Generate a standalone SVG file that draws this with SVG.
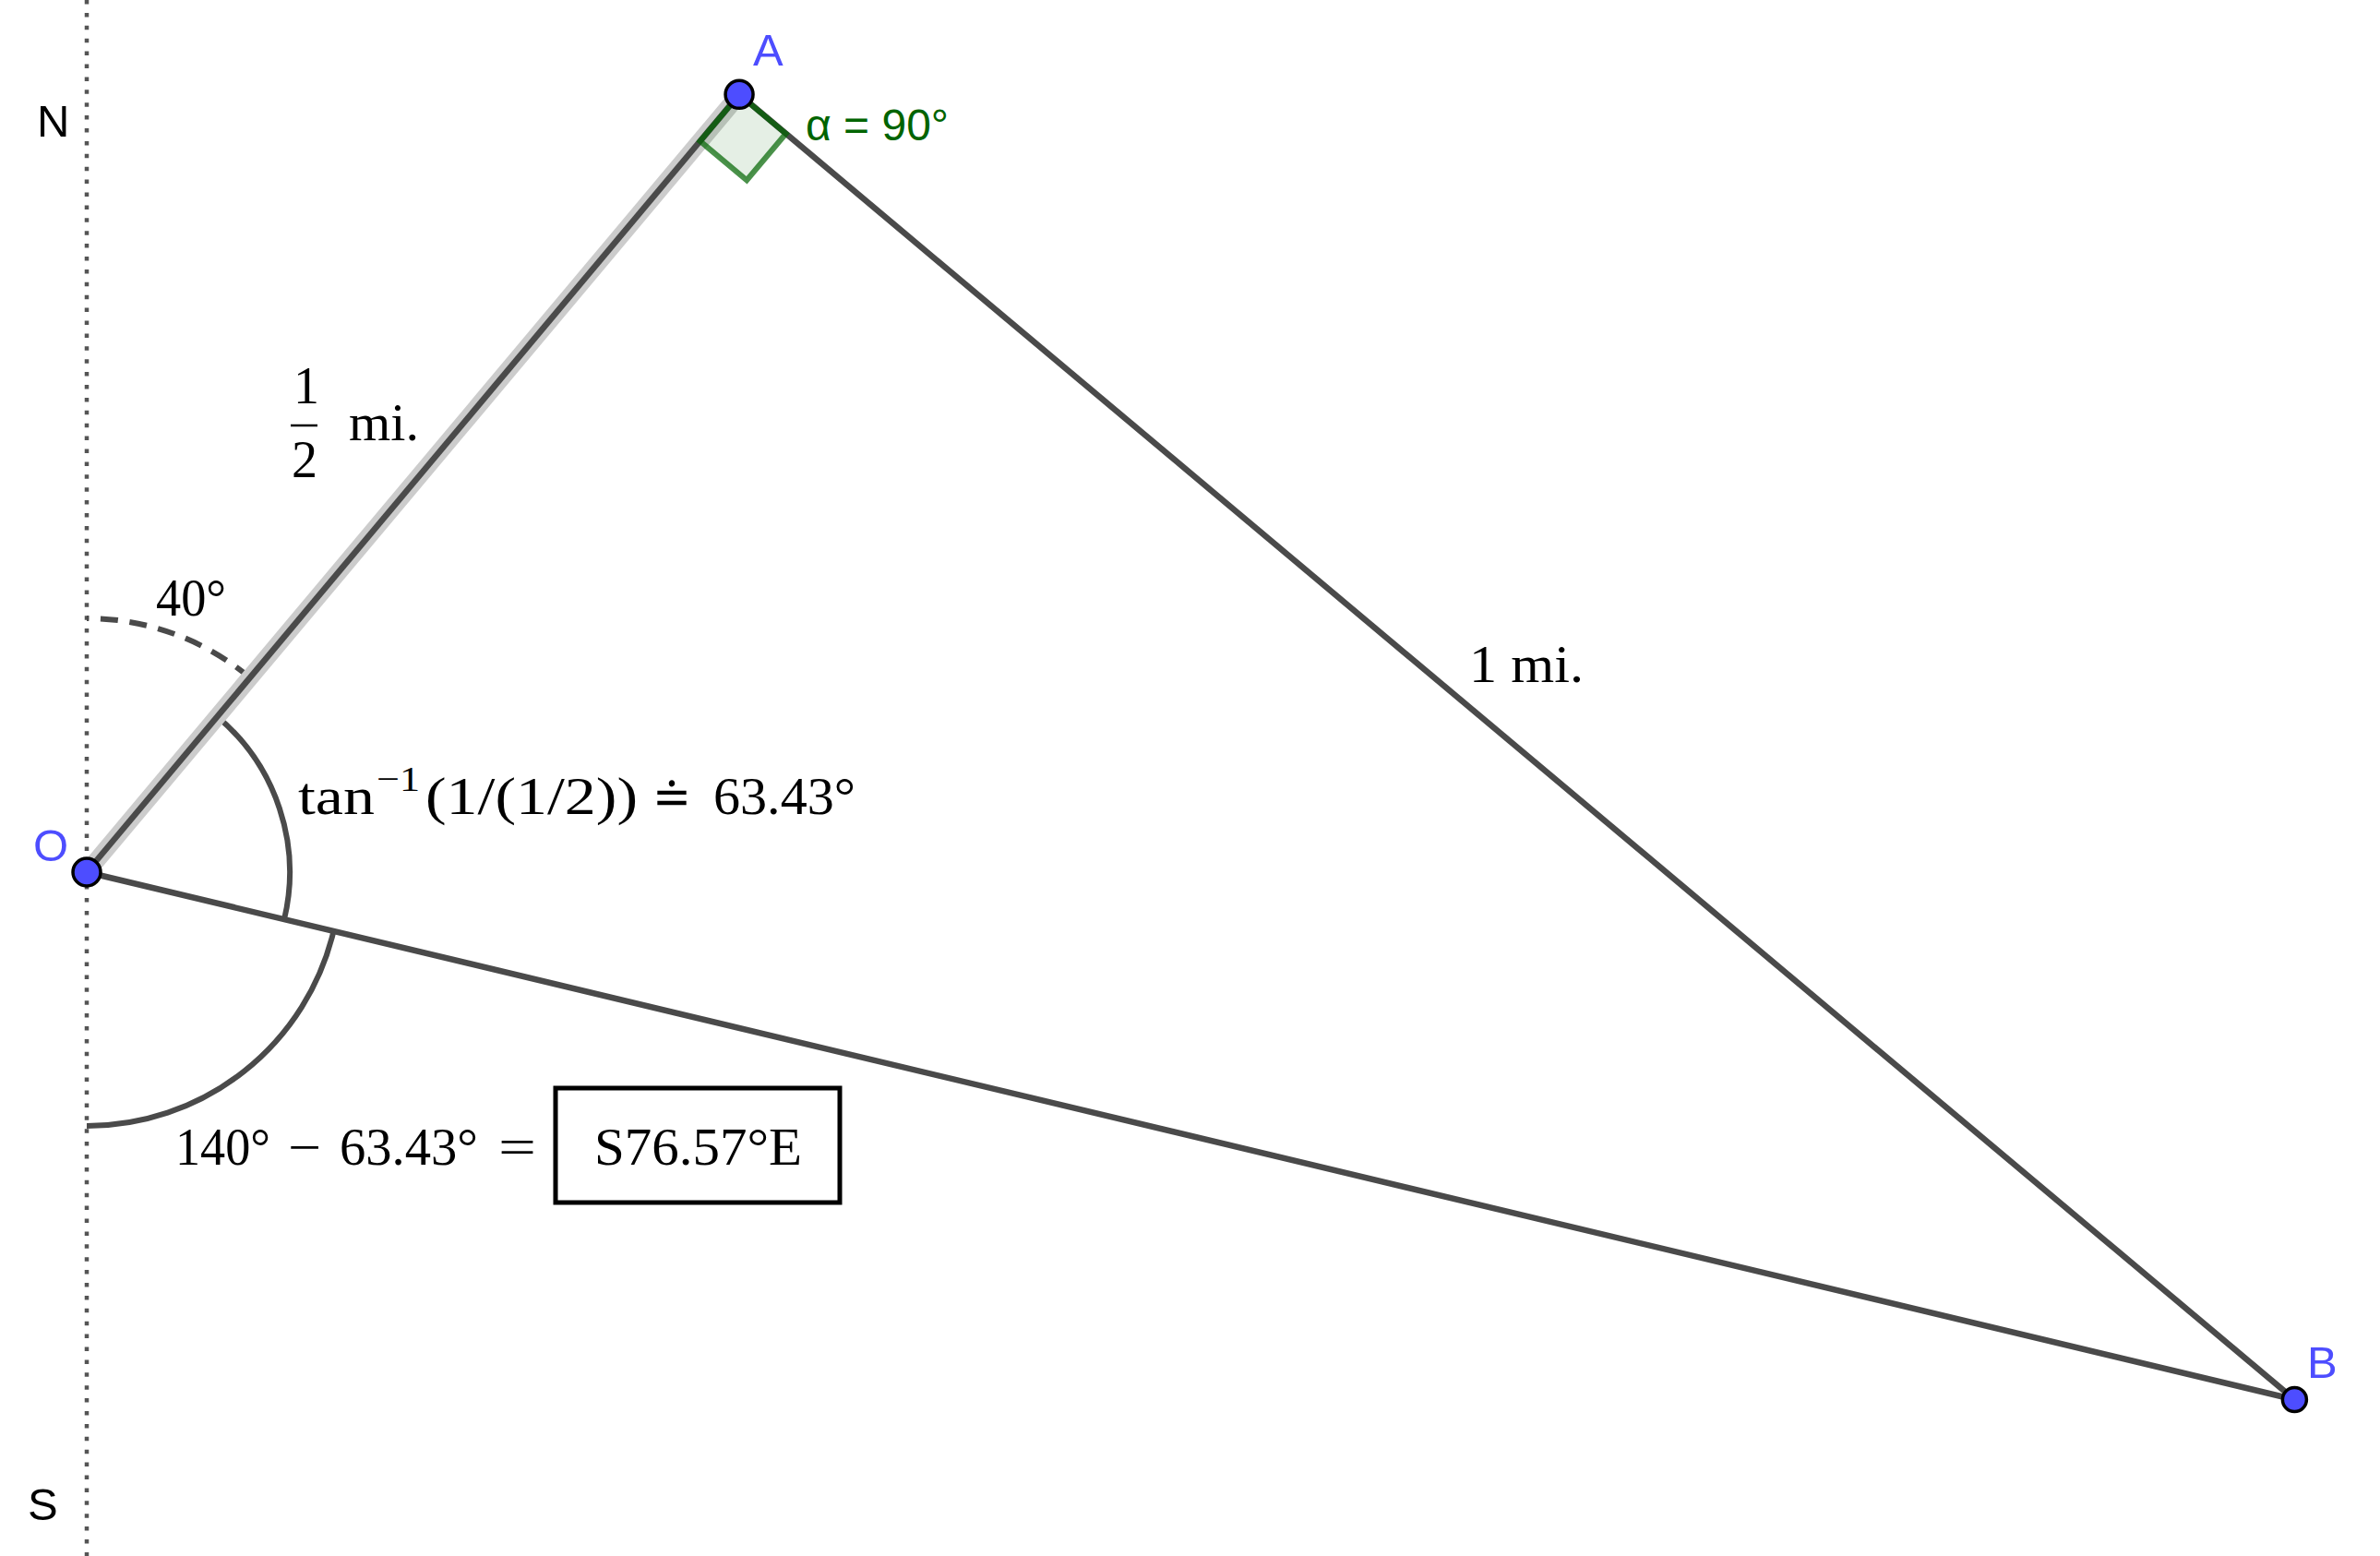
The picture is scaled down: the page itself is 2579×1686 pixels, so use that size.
<svg xmlns="http://www.w3.org/2000/svg" width="2579" height="1686" viewBox="0 0 2579 1686">
<style>
.seg{stroke:#4a4a4a;stroke-width:6.5;fill:none}
.arc{stroke:#4a4a4a;stroke-width:6;fill:none}
.pt{fill:#4d4dff;stroke:#000;stroke-width:3.5}
.lbl{font-family:"Liberation Sans",Arial,sans-serif;font-size:49px}
.blue{fill:#4d4dff}
.m{font-family:"Liberation Serif","DejaVu Serif",serif;fill:#000}
.big{font-size:56px}
</style>
<rect width="2579" height="1686" fill="#fff"/>
<g id="axis">
<line x1="94" y1="0" x2="94" y2="1686" stroke="#555" stroke-width="4.5" stroke-dasharray="4.5 9.4"/>
<text class="lbl" x="40" y="148">N</text>
<text class="lbl" x="30" y="1647">S</text>
</g>
<g id="angles">
<path class="arc" d="M235.4,776.5 A220,220 0 0 1 308,996.1"/>
<path class="arc" d="M361.5,1008.9 A275,275 0 0 1 94,1220"/>
<path class="arc" stroke-width="7.5" stroke-dasharray="19 12.6" d="M270.8,734.3 A275,275 0 0 0 94,670"/>
</g>
<g id="connectors">
<line x1="94" y1="945" x2="801.07" y2="102.36" stroke="#cccccc" stroke-width="19"/>
<line class="seg" x1="94" y1="945" x2="801.07" y2="102.36"/>
<line class="seg" x1="801.07" y1="102.36" x2="2486.4" y2="1516.5"/>
<line class="seg" x1="94" y1="945" x2="2486.4" y2="1516.5"/>
</g>
<g id="right-angle">
<polygon points="801.07,102.36 758.6,152.9 809.2,195.3 851.6,144.8" fill="#006400" fill-opacity="0.1" stroke="#006400" stroke-opacity="0.71" stroke-width="6" stroke-linejoin="miter"/>
<text x="873" y="152" font-family="'Liberation Sans',Arial,sans-serif" font-size="48" fill="#006400">α = 90°</text>
</g>
<g id="node-A">
<circle class="pt" cx="801.07" cy="102.36" r="15"/>
<text class="lbl blue" x="816" y="71">A</text>
</g>
<g id="node-O">
<circle class="pt" cx="94" cy="945" r="15"/>
<text class="lbl blue" x="36" y="933">O</text>
</g>
<g id="node-B">
<circle class="pt" cx="2486.4" cy="1516.5" r="13"/>
<text class="lbl blue" x="2500" y="1493">B</text>
</g>
<g id="label-40">
<text class="m big" x="169" y="667" textLength="76" lengthAdjust="spacingAndGlyphs">40°</text>
</g>
<g id="label-half">
<text class="m big" x="318" y="437">1</text>
<line x1="315" y1="461" x2="344" y2="461" stroke="#000" stroke-width="2.5"/>
<text class="m big" x="316" y="517">2</text>
<text class="m big" x="378" y="477" textLength="76" lengthAdjust="spacingAndGlyphs">mi.</text>
</g>
<g id="label-1mi">
<text class="m big" x="1592" y="739" textLength="124" lengthAdjust="spacingAndGlyphs">1 mi.</text>
</g>
<g id="label-tan">
<text class="m big" x="323" y="882" textLength="83" lengthAdjust="spacingAndGlyphs">tan</text>
<text class="m" font-size="38" x="408" y="857" textLength="47" lengthAdjust="spacingAndGlyphs">−1</text>
<text class="m big" x="461" y="882" textLength="230" lengthAdjust="spacingAndGlyphs">(1/(1/2))</text>
<text class="m big" x="707" y="882" textLength="42" lengthAdjust="spacingAndGlyphs">≐</text>
<text class="m big" x="773" y="882" textLength="154" lengthAdjust="spacingAndGlyphs">63.43°</text>
</g>
<g id="label-bearing">
<text class="m big" x="190" y="1262" textLength="103" lengthAdjust="spacingAndGlyphs">140°</text>
<text class="m big" x="312" y="1262" textLength="36" lengthAdjust="spacingAndGlyphs">−</text>
<text class="m big" x="368" y="1262" textLength="150" lengthAdjust="spacingAndGlyphs">63.43°</text>
<text class="m big" x="540" y="1262" textLength="41" lengthAdjust="spacingAndGlyphs">=</text>
<rect x="602" y="1179" width="308" height="124" fill="none" stroke="#000" stroke-width="5"/>
<text class="m big" x="644" y="1262" textLength="225" lengthAdjust="spacingAndGlyphs">S76.57°E</text>
</g>
</svg>
